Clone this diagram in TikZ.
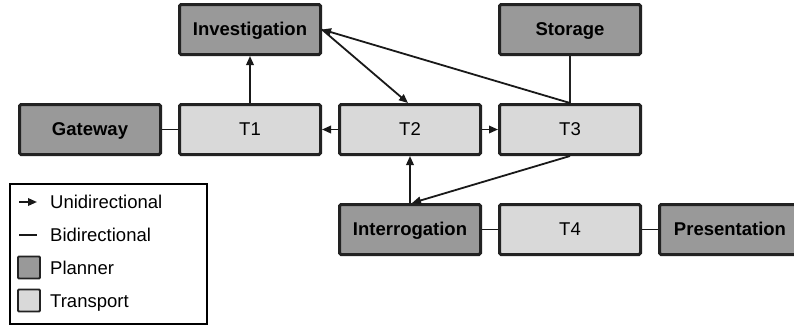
\documentclass[tikz,border=0pt]{standalone}
\usepackage{fontspec}
\setmainfont{Liberation Sans}
\usetikzlibrary{arrows.meta}
\definecolor{planfill}{HTML}{999999}
\definecolor{transfill}{HTML}{D9D9D9}
\definecolor{boxline}{HTML}{222222}
\tikzset{
  box/.style={draw=boxline, line width=3pt, rounded corners=1.5pt, minimum width=141pt, minimum height=50pt, inner sep=0pt, text height=12pt, text depth=0pt, font=\fontsize{18.5}{20}\selectfont},
  planner/.style={box, fill=planfill, font=\fontsize{18.5}{20}\selectfont\bfseries},
  transport/.style={box, fill=transfill},
  conn/.style={line width=1.8pt, draw=black!90},
  uni/.style={conn, -{Triangle[length=9pt,width=7.5pt]}},
  legtext/.style={anchor=west, inner sep=0pt, text height=12pt, text depth=0pt, font=\fontsize{18.5}{20}\selectfont},
  swatch/.style={draw=boxline, line width=1.8pt, rounded corners=1pt, minimum width=22pt, minimum height=22pt, inner sep=0pt}
}
\begin{document}
\begin{tikzpicture}[x=1pt,y=-1pt]
\useasboundingbox (0,0) rectangle (794,327);
% nodes
\node[planner] (inv) at (250,29.5) {Investigation};
\node[planner] (sto) at (570,29.5) {Storage};
\node[planner] (gw) at (90,129.5) {Gateway};
\node[transport] (t1) at (250,129.5) {T1};
\node[transport] (t2) at (410,129.5) {T2};
\node[transport] (t3) at (570,129.5) {T3};
\node[planner] (intg) at (410,229.5) {Interrogation};
\node[transport] (t4) at (570,229.5) {T4};
\node[planner] (pres) at (730,229.5) {Presentation};
% connectors
\draw[conn] (gw) -- (t1);
\draw[uni] (t1) -- (inv);
\draw[uni] (t2) -- (t1);
\draw[uni] (t2) -- (t3);
\draw[conn, line width=1.4pt, draw=boxline] (sto) -- (t3);
\draw[uni] (t3.north) -- (inv.east);
\draw[uni] (inv.east) -- ([xshift=-2pt]t2.north);
\draw[uni] (intg) -- (t2);
\draw[uni] (t3.south) -- ([xshift=2pt]intg.north);
\draw[conn] (intg) -- (t4);
\draw[conn] (t4) -- (pres);
% legend
\node[draw=black, line width=2pt, minimum width=197pt, minimum height=140pt, inner sep=0pt] (leg) at (108.5,254) {};
\coordinate (a1) at (19,202);
\coordinate (a2) at (37,202);
\draw[conn, -{Triangle[length=9pt,width=7.5pt]}] (a1) -- (a2);
\coordinate (b1) at (19,235);
\coordinate (b2) at (37,235);
\draw[conn] (b1) -- (b2);
\node[swatch, fill=planfill] (sp) at (29,267.5) {};
\node[swatch, fill=transfill] (st) at (29,300.5) {};
\node[legtext] (l1) at (50,202) {Unidirectional};
\node[legtext] (l2) at (50,235) {Bidirectional};
\node[legtext] (l3) at (50,268) {Planner};
\node[legtext] (l4) at (50,301) {Transport};
\end{tikzpicture}
\end{document}
